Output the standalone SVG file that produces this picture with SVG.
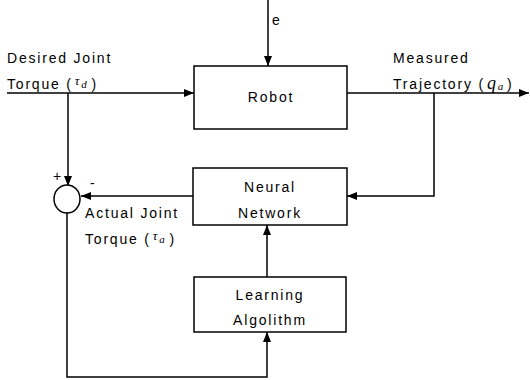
<svg xmlns="http://www.w3.org/2000/svg" width="530" height="380" viewBox="0 0 530 380">
<style>
.box{fill:#fff;stroke:#000;stroke-width:1.5}
.ln{fill:none;stroke:#000;stroke-width:1.5}
.t{font-family:"Liberation Sans",Arial,sans-serif;font-size:14px;letter-spacing:1.8px;fill:#000}
.c{text-anchor:middle}
.g{font-family:"Liberation Serif","Times New Roman",serif;font-style:italic}
</style>
<defs>
<marker id="ah" viewBox="0 0 10 8" refX="10" refY="4" markerWidth="10" markerHeight="8" markerUnits="userSpaceOnUse" orient="auto">
<path d="M0,0 L10,4 L0,8 Z" fill="#000"/>
</marker>
</defs>
<rect width="530" height="380" fill="#fff"/>
<g id="connectors">
<path class="ln" d="M268,0 V66" marker-end="url(#ah)"/>
<path class="ln" d="M7,93 H194" marker-end="url(#ah)"/>
<path class="ln" d="M68,93 V186" marker-end="url(#ah)"/>
<path class="ln" d="M347,93 H529" marker-end="url(#ah)"/>
<path class="ln" d="M434,93 V196 H347" marker-end="url(#ah)"/>
<path class="ln" d="M193,196 H81" marker-end="url(#ah)"/>
<path class="ln" d="M267,277 V225" marker-end="url(#ah)"/>
<path class="ln" d="M67,213 V377 H267 V332" marker-end="url(#ah)"/>
</g>
<g id="robot">
<rect class="box" x="194" y="66" width="153" height="63"/>
<text class="t c" x="271" y="102">Robot</text>
</g>
<g id="neural-network">
<rect class="box" x="193" y="168" width="154" height="57"/>
<text class="t c" x="270" y="192">Neural</text>
<text class="t c" x="270" y="218">Network</text>
</g>
<g id="learning-algorithm">
<rect class="box" x="194" y="277" width="152" height="55"/>
<text class="t c" x="270" y="300">Learning</text>
<text class="t c" x="270" y="325">Algolithm</text>
</g>
<g id="sum">
<ellipse class="box" cx="67" cy="199" rx="13" ry="14"/>
<text class="t" x="53" y="181">+</text>
<text class="t" x="90" y="188">-</text>
</g>
<g id="labels">
<text class="t" x="272" y="25">e</text>
<text class="t" x="7" y="63">Desired Joint</text>
<text class="t" x="7" y="89">Torque (<tspan class="g" font-size="13" dx="2" dy="-4">τ</tspan><tspan class="g" font-size="11" dy="3">d</tspan><tspan dx="3" dy="1">)</tspan></text>
<text class="t" x="393" y="63">Measured</text>
<text class="t" x="393" y="89">Trajectory (<tspan class="g" font-size="18" dx="2">q</tspan><tspan class="g" font-size="11" dy="1">a</tspan><tspan dx="2" dy="-1">)</tspan></text>
<text class="t" x="85" y="218">Actual Joint</text>
<text class="t" x="85" y="244">Torque (<tspan class="g" font-size="13" dx="2" dy="-4">τ</tspan><tspan class="g" font-size="11" dy="3">a</tspan><tspan dx="3" dy="1">)</tspan></text>
</g>
</svg>
